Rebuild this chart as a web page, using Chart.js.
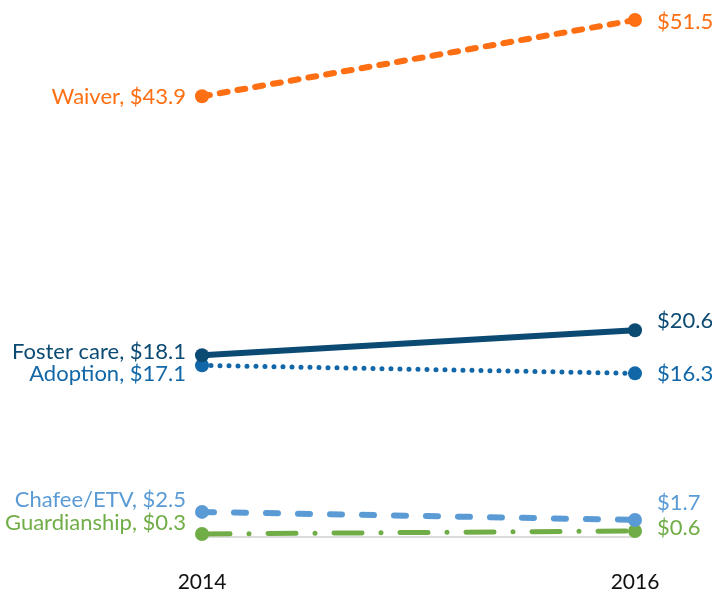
<!DOCTYPE html>
<html>
<head>
<meta charset="utf-8">
<script src="https://cdn.jsdelivr.net/npm/chart.js@4.4.1/dist/chart.umd.min.js"></script>
<style>
  html, body { margin: 0; padding: 0; background: #fff; }
  #wrap { width: 712px; height: 595px; }
</style>
</head>
<body>
<div id="wrap"><canvas id="chart"></canvas></div>
<script>
// data
const years = ['2014', '2016'];
const programs = ['Waiver', 'Foster care', 'Adoption', 'Chafee/ETV', 'Guardianship'];
const waiver = [43.9, 51.5];
const fosterCare = [18.1, 20.6];
const adoption = [17.1, 16.3];
const chafee = [2.5, 1.7];
const guardianship = [0.3, 0.6];

// styles
const colors = ['#fd6f12', '#0b4a72', '#1167a8', '#5b9bd5', '#70ad47'];
const widths = [6, 6, 5, 6, 5];
const dashes = [[8, 10], [], [0, 9], [12, 20], [28, 19, 0, 19]];
// label nudges (px) so that close labels don't overlap
const leftNudge = [1, -3, 9, -12, -11];
const rightNudge = [2, -9, 1, -17, -3];

const series = [waiver, fosterCare, adoption, chafee, guardianship];

const labelPlugin = {
  id: 'slopeLabels',
  afterDatasetsDraw(chart) {
    const ctx = chart.ctx;
    ctx.save();
    ctx.font = '22px Lato';
    ctx.textBaseline = 'middle';
    chart.data.datasets.forEach((ds, i) => {
      const pts = chart.getDatasetMeta(i).data;
      ctx.fillStyle = ds.borderColor;
      ctx.textAlign = 'right';
      ctx.fillText(ds.label + ', $' + ds.data[0].toFixed(1), pts[0].x - 16, pts[0].y + leftNudge[i]);
      ctx.textAlign = 'left';
      ctx.fillText('$' + ds.data[1].toFixed(1), pts[1].x + 22, pts[1].y + rightNudge[i]);
    });
    ctx.restore();
  }
};

const ctx = document.getElementById('chart');
new Chart(ctx, {
  type: 'line',
  data: {
    labels: years,
    datasets: programs.map((name, i) => ({
      label: name,
      data: series[i],
      borderColor: colors[i],
      backgroundColor: colors[i],
      borderWidth: widths[i],
      borderDash: dashes[i],
      borderCapStyle: 'round',
      pointRadius: 7,
      pointHoverRadius: 7,
      pointBorderWidth: 0,
      clip: false
    }))
  },
  options: {
    responsive: true,
    maintainAspectRatio: false,
    animation: false,
    layout: { padding: { top: 15, bottom: 2, left: 202, right: 77 } },
    plugins: {
      legend: { display: false },
      tooltip: { enabled: false }
    },
    scales: {
      x: {
        offset: false,
        grid: { display: false },
        border: { display: false },
        ticks: { color: '#111', font: { family: 'Lato', size: 21 }, padding: 25, maxRotation: 0 },
        afterFit: (scale) => { scale.height = 56; }
      },
      y: {
        min: 0,
        max: 52,
        ticks: { display: false },
        border: { display: false },
        grid: {
          drawTicks: false,
          lineWidth: 2,
          color: (c) => c.tick && c.tick.value === 0 ? '#dcdcdc' : 'rgba(0,0,0,0)'
        }
      }
    }
  },
  plugins: [labelPlugin]
});
</script>
</body>
</html>
